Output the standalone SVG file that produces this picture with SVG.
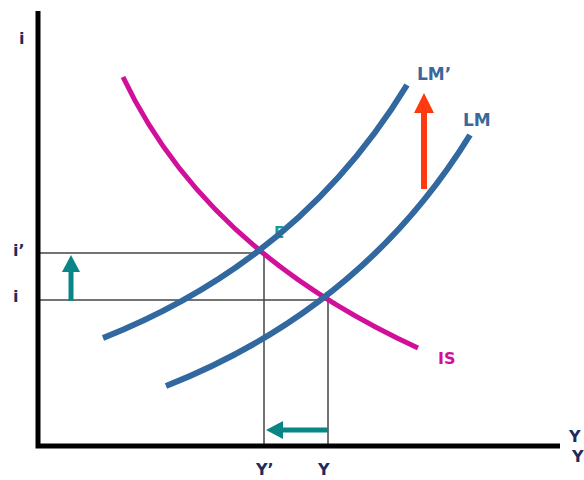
<svg xmlns="http://www.w3.org/2000/svg" width="584" height="480" viewBox="0 0 584 480">
<style>
.lbl{font-family:"DejaVu Sans",Verdana,sans-serif;font-weight:bold;font-size:16px;fill:#1e2b5c}
.blue{font-family:"DejaVu Sans",Verdana,sans-serif;font-weight:bold;font-size:17px;fill:#3a6898}
.guide{stroke:#444;stroke-width:1.5;fill:none}
.lm{stroke:#31689f;stroke-width:6;fill:none}
</style>
<rect width="584" height="480" fill="#fff"/>
<g id="guides">
<line class="guide" x1="40" y1="253" x2="264" y2="253"/>
<line class="guide" x1="40" y1="300" x2="328" y2="300"/>
<line class="guide" x1="264" y1="253" x2="264" y2="445"/>
<line class="guide" x1="328" y1="300" x2="328" y2="445"/>
</g>
<g id="axes">
<path d="M38,11 V446 H560" stroke="#000" stroke-width="5" fill="none"/>
<text class="lbl" x="19" y="44">i</text>
<text class="lbl" x="13" y="256">i’</text>
<text class="lbl" x="13" y="302">i</text>
<text class="lbl" x="256" y="475">Y’</text>
<text class="lbl" x="318" y="475">Y</text>
<text class="lbl" x="569" y="442" font-size="15">Y</text>
<text class="lbl" x="572" y="462" font-size="15">Y</text>
</g>
<g id="IS">
<path d="M123,77 Q205,250 418,348" stroke="#d10f9b" stroke-width="5" fill="none"/>
<text x="438" y="364" font-family="DejaVu Sans,Verdana,sans-serif" font-weight="bold" font-size="16" fill="#d10f9b">IS</text>
</g>
<g id="E">
<text x="274" y="238" font-family="DejaVu Sans,Verdana,sans-serif" font-weight="bold" font-size="15" fill="#1a9a9a">E</text>
</g>
<g id="LMprime">
<path class="lm" d="M103,338 Q300,260 407,85"/>
<text class="blue" x="417" y="80">LM’</text>
</g>
<g id="LM">
<path class="lm" d="M166,386 Q363,308 470,135"/>
<text class="blue" x="463" y="126">LM</text>
</g>
<g id="connectors">
<line x1="71" y1="301" x2="71" y2="270" stroke="#0a8585" stroke-width="5"/>
<polygon points="71,255 62,272 80,272" fill="#0a8585"/>
<line x1="328" y1="430" x2="282" y2="430" stroke="#0a8585" stroke-width="5"/>
<polygon points="266,430 283,421 283,439" fill="#0a8585"/>
<line x1="424" y1="189" x2="424" y2="110" stroke="#ff3a10" stroke-width="6"/>
<polygon points="424,93 414,113 434,113" fill="#ff3a10"/>
</g>
</svg>
